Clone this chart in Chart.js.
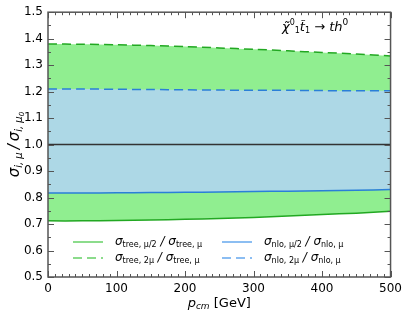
<!DOCTYPE html>
<html>
<head>
<meta charset="utf-8">
<script src="https://cdn.jsdelivr.net/npm/chart.js@4"></script>
<style>
  html, body { margin: 0; padding: 0; background: #fff; }
  #wrap { width: 407px; height: 319px; }
</style>
</head>
<body>
<div id="wrap"><canvas id="scaleChart"></canvas></div>
<script>
// p_cm values (GeV)
const pcm = [0, 50, 100, 150, 200, 250, 300, 350, 400, 450, 500];
// scale ratios
const treeUp = [1.380, 1.379, 1.377, 1.374, 1.370, 1.365, 1.360, 1.354, 1.348, 1.342, 1.335];
const treeLo = [0.712, 0.712, 0.713, 0.715, 0.718, 0.721, 0.725, 0.730, 0.736, 0.741, 0.748];
const nloUp = [1.210, 1.210, 1.209, 1.208, 1.207, 1.206, 1.205, 1.205, 1.204, 1.203, 1.203];
const nloLo = [0.817, 0.817, 0.818, 0.819, 0.820, 0.821, 0.823, 0.824, 0.826, 0.828, 0.830];
const refLine = [1, 1];
const refX = [0, 500];
const xTicks = [0, 100, 200, 300, 400, 500];
const yTicks = [0.5, 0.6, 0.7, 0.8, 0.9, 1.0, 1.1, 1.2, 1.3, 1.4, 1.5];

const FONT = "'DejaVu Sans', sans-serif";
const GREEN = '#22a822';
const BLUE = '#2a7fd8';
const DASH = [9, 5];

function pts(xs, ys) {
    return xs.map((x, i) => ({ x: x, y: ys[i] }));
}

// text pieces with sub/superscripts, left aligned at x
function richWidth(ctx, parts) {
    let w = 0;
    parts.forEach(p => {
        ctx.font = (p.it ? 'italic ' : '') + p.size + 'px ' + FONT;
        w += ctx.measureText(p.t).width;
    });
    return w;
}
function drawRich(ctx, parts, x, y) {
    let cx = x;
    parts.forEach(p => {
        ctx.font = (p.it ? 'italic ' : '') + p.size + 'px ' + FONT;
        ctx.fillText(p.t, cx, y + (p.dy || 0));
        cx += ctx.measureText(p.t).width;
    });
}
function ratioLabel(kind, num) {
    return [
        { t: 'σ', size: 12, it: true },
        { t: kind + ', ' + num, size: 8, dy: 3 },
        { t: ' / ', size: 12, it: true },
        { t: 'σ', size: 12, it: true },
        { t: kind + ', μ', size: 8, dy: 3 }
    ];
}

const legendItems = [
    { x: 73, y: 242, color: '#66d066', dash: [], parts: ratioLabel('tree', 'μ/2') },
    { x: 73, y: 258, color: '#66d066', dash: DASH, parts: ratioLabel('tree', '2μ') },
    { x: 222, y: 242, color: '#66a8ee', dash: [], parts: ratioLabel('nlo', 'μ/2') },
    { x: 222, y: 258, color: '#66a8ee', dash: DASH, parts: ratioLabel('nlo', '2μ') }
];

const framePlugin = {
    id: 'frame',
    afterDraw(chart) {
        const ctx = chart.ctx;
        const a = chart.chartArea;
        const xs = chart.scales.x, ys = chart.scales.y;
        ctx.save();
        ctx.strokeStyle = '#555';
        ctx.lineWidth = 1;
        // minor/major ticks pointing inward on all four sides
        for (let v = 0; v <= 500; v += 10) {
            const px = Math.round(xs.getPixelForValue(v)) + 0.5;
            const len = v % 100 === 0 ? 6 : 3;
            ctx.beginPath();
            ctx.moveTo(px, a.bottom); ctx.lineTo(px, a.bottom - len);
            ctx.moveTo(px, a.top); ctx.lineTo(px, a.top + len);
            ctx.stroke();
        }
        for (let k = 0; k <= 20; k++) {
            const v = 0.5 + k * 0.05;
            const py = Math.round(ys.getPixelForValue(v)) + 0.5;
            const len = k % 2 === 0 ? 6 : 3;
            ctx.beginPath();
            ctx.moveTo(a.left, py); ctx.lineTo(a.left + len, py);
            ctx.moveTo(a.right, py); ctx.lineTo(a.right - len, py);
            ctx.stroke();
        }
        ctx.lineWidth = 1.5;
        ctx.strokeRect(a.left, a.top, a.right - a.left, a.bottom - a.top);

        // legend
        ctx.fillStyle = '#000';
        ctx.textBaseline = 'middle';
        legendItems.forEach(it => {
            ctx.strokeStyle = it.color;
            ctx.lineWidth = 1.5;
            ctx.setLineDash(it.dash);
            ctx.beginPath();
            ctx.moveTo(it.x, it.y); ctx.lineTo(it.x + 30, it.y);
            ctx.stroke();
            ctx.setLineDash([]);
            drawRich(ctx, it.parts, it.x + 42, it.y);
        });

        // process annotation
        drawRich(ctx, [
            { t: 'χ̃', size: 13, it: true },
            { t: '0', size: 8, dy: -5 },
            { t: '1', size: 8, dy: 3 },
            { t: 't̃', size: 13, it: true },
            { t: '1', size: 8, dy: 3 },
            { t: ' → ', size: 13 },
            { t: 'th', size: 13, it: true },
            { t: '0', size: 9, dy: -5 }
        ], 282, 28);

        // x axis title
        const xt = [
            { t: 'p', size: 13, it: true },
            { t: 'cm', size: 9, it: true, dy: 3 },
            { t: ' [GeV]', size: 13 }
        ];
        const cx = (a.left + a.right) / 2;
        drawRich(ctx, xt, cx - richWidth(ctx, xt) / 2, 304);

        // y axis title, rotated
        const yt = [
            { t: 'σ', size: 15, it: true },
            { t: 'i, μ', size: 10, it: true, dy: 4 },
            { t: '\u2009/\u2009', size: 15, it: true },
            { t: 'σ', size: 15, it: true },
            { t: 'i, μ', size: 10, it: true, dy: 4 },
            { t: '0', size: 7, it: true, dy: 7 }
        ];
        ctx.translate(15, (a.top + a.bottom) / 2);
        ctx.rotate(-Math.PI / 2);
        drawRich(ctx, yt, -richWidth(ctx, yt) / 2, 0);
        ctx.restore();
    }
};

new Chart(document.getElementById('scaleChart'), {
    type: 'line',
    data: {
        datasets: [
            { label: 'nlo mu/2', data: pts(pcm, nloLo), borderColor: BLUE, borderWidth: 1.5, fill: false },
            { label: 'nlo 2mu', data: pts(pcm, nloUp), borderColor: BLUE, borderWidth: 1.5, borderDash: DASH,
              fill: '-1', backgroundColor: '#add8e6' },
            { label: 'tree mu/2', data: pts(pcm, treeLo), borderColor: GREEN, borderWidth: 1.5, fill: false },
            { label: 'tree 2mu', data: pts(pcm, treeUp), borderColor: GREEN, borderWidth: 1.5, borderDash: DASH,
              fill: '-1', backgroundColor: '#90ee90' },
            { label: 'ref', data: pts(refX, refLine), borderColor: '#333', borderWidth: 1.5, fill: false, order: -1 }
        ]
    },
    options: {
        responsive: true,
        maintainAspectRatio: false,
        animation: false,
        devicePixelRatio: 1,
        layout: { padding: { left: 0, right: 16, top: 11, bottom: 0 } },
        elements: { point: { radius: 0 }, line: { tension: 0.3 } },
        plugins: { legend: { display: false }, tooltip: { enabled: false } },
        scales: {
            x: {
                type: 'linear', min: 0, max: 500,
                afterBuildTicks: s => { s.ticks = xTicks.map(v => ({ value: v })); },
                afterFit: s => { s.height = 42; },
                grid: { display: false, drawTicks: false },
                border: { display: false },
                ticks: { color: '#000', padding: 5, font: { family: FONT, size: 12 }, maxRotation: 0 }
            },
            y: {
                type: 'linear', min: 0.5, max: 1.5,
                afterBuildTicks: s => { s.ticks = yTicks.map(v => ({ value: v })); },
                afterFit: s => { s.width = 48; },
                grid: { display: false, drawTicks: false },
                border: { display: false },
                ticks: { color: '#000', padding: 5, font: { family: FONT, size: 12 },
                         callback: v => v.toFixed(1) }
            }
        }
    },
    plugins: [framePlugin]
});
</script>
</body>
</html>
